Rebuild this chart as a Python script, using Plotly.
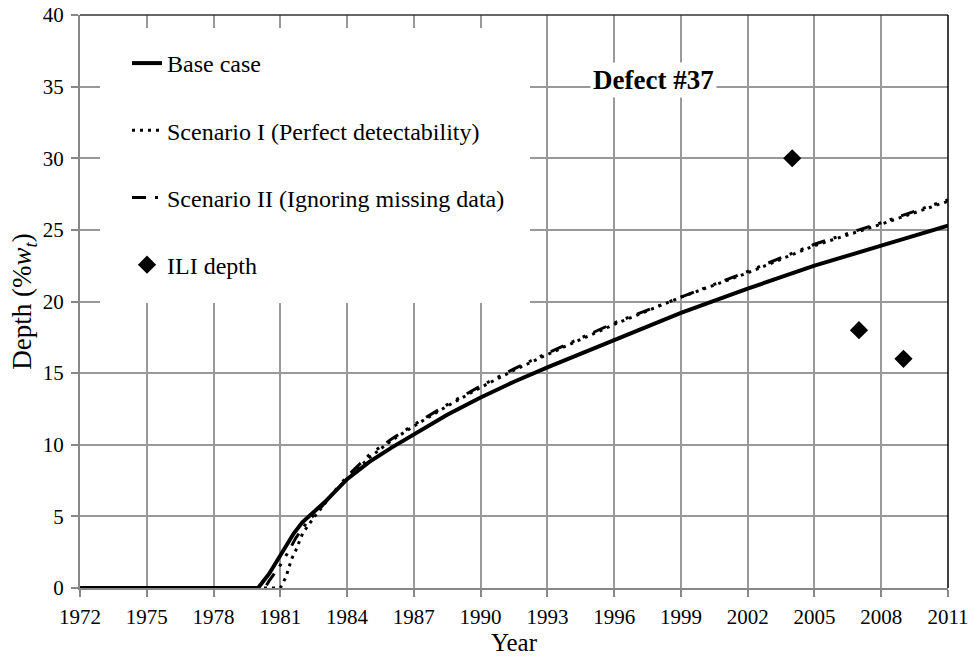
import plotly.graph_objects as go

# ---- data ----
years_base = [1972, 1980.0, 1980.5, 1981.0, 1981.3, 1981.6, 1982.0, 1982.5, 1983.0, 1984, 1985, 1986, 1987,
              1988.5, 1990, 1991.5, 1993, 1996, 1999, 2002, 2005, 2008, 2011]
depth_base = [0, 0, 1.0, 2.3, 3.1, 3.8, 4.6, 5.3, 6.0, 7.6, 8.8, 9.8, 10.7,
              12.1, 13.3, 14.4, 15.4, 17.3, 19.2, 20.9, 22.5, 23.9, 25.3]

years_s1 = [1972, 1981.0, 1981.25, 1981.5, 1981.7, 1982.0, 1982.5, 1982.8, 1983.3, 1984, 1985, 1986,
            1987, 1988.5, 1990, 1991.5, 1993, 1996, 1999, 2002, 2005, 2008, 2011]
depth_s1 = [0, 0, 0.75, 2.0, 2.65, 3.8, 4.9, 5.5, 6.5, 7.6, 9.1, 10.3,
            11.3, 12.7, 14.0, 15.2, 16.3, 18.4, 20.3, 22.0, 23.9, 25.4, 27.0]

years_s2 = [1972, 1980.3, 1980.5, 1981.0, 1981.35, 1981.7, 1982.2, 1982.7, 1983.3, 1984, 1985, 1986,
            1987, 1988.5, 1990, 1991.5, 1993, 1996, 1999, 2002, 2005, 2008, 2011]
depth_s2 = [0, 0, 0.5, 1.6, 2.5, 3.5, 4.6, 5.4, 6.5, 7.8, 9.3, 10.4,
            11.4, 12.8, 14.1, 15.3, 16.4, 18.5, 20.3, 22.1, 24.0, 25.5, 27.1]

ili_years = [2004, 2007, 2009]
ili_depth = [30, 18, 16]

x_ticks = list(range(1972, 2012, 3))
y_ticks = list(range(0, 41, 5))

FONT = "Liberation Serif"

fig = go.Figure()
fig.add_trace(go.Scatter(x=years_base, y=depth_base, mode="lines", name="Base case",
                         legendgroup="a", line=dict(color="black", width=4)))
fig.add_trace(go.Scatter(x=years_s1, y=depth_s1, mode="lines", name="Scenario I (Perfect detectability)",
                         legendgroup="b", line=dict(color="black", width=3, dash="3px,5px")))
fig.add_trace(go.Scatter(x=years_s2, y=depth_s2, mode="lines", name="Scenario II (Ignoring missing data)",
                         legendgroup="c", line=dict(color="black", width=3, dash="14px,9px,3px,9px,3px,9px")))
fig.add_trace(go.Scatter(x=ili_years, y=ili_depth, mode="markers", name="ILI depth",
                         legendgroup="d", marker=dict(symbol="diamond", size=14, color="black")))

W, H = 974, 660
ml, mr, mt, mb = 80, 26, 15, 72
pw = W - ml - mr
ph = H - mt - mb

def px_x(px):
    return (px - ml) / pw

def px_y(py):
    return (H - mb - py) / ph

fig.update_layout(
    width=W, height=H,
    margin=dict(l=ml, r=mr, t=mt, b=mb, autoexpand=False),
    paper_bgcolor="white", plot_bgcolor="white",
    font=dict(family=FONT, size=21, color="black"),
    showlegend=True,
    legend=dict(x=px_x(127), y=px_y(41), xanchor="left", yanchor="top",
                bgcolor="rgba(0,0,0,0)", font=dict(family=FONT, size=24, color="black"),
                tracegroupgap=33, traceorder="grouped"),
    xaxis=dict(range=[1972, 2011], tickvals=x_ticks, ticktext=[str(v) for v in x_ticks],
               showgrid=True, gridcolor="#999999", gridwidth=1.5,
               showline=True, linecolor="#888888", linewidth=2,
               ticks="outside", ticklen=7, tickcolor="#888888", tickwidth=1.5,
               zeroline=False, layer="below traces", automargin=False,
               ticklabelstandoff=2,
               tickfont=dict(family=FONT, size=21),
               title=dict(text="Year", font=dict(family=FONT, size=25), standoff=4)),
    yaxis=dict(range=[0, 40], tickvals=y_ticks, ticktext=[str(v) for v in y_ticks],
               showgrid=True, gridcolor="#999999", gridwidth=1.5,
               showline=True, linecolor="#888888", linewidth=2,
               ticks="outside", ticklen=7, tickcolor="#888888", tickwidth=1.5,
               zeroline=False, layer="below traces", automargin=False,
               ticklabelstandoff=3,
               tickfont=dict(family=FONT, size=21),
               title=dict(text="Depth (%<i>w</i><sub><i>t</i></sub>)", font=dict(family=FONT, size=27), standoff=3)),
    shapes=[
        dict(type="rect", xref="paper", yref="paper", x0=px_x(100), x1=px_x(530),
             y0=px_y(303), y1=px_y(28), fillcolor="white", line=dict(width=0), layer="above"),
        dict(type="line", xref="paper", yref="paper", x0=0, x1=1, y0=1, y1=1,
             line=dict(color="#333333", width=1.5)),
        dict(type="line", xref="paper", yref="paper", x0=1, x1=1, y0=0, y1=1,
             line=dict(color="black", width=1.5)),
    ],
    annotations=[
        dict(text="<b>Defect #37</b>", x=px_x(653), y=px_y(80), xref="paper", yref="paper",
             xanchor="center", yanchor="middle",
             showarrow=False, font=dict(family=FONT, size=27, color="black"),
             bgcolor="white", borderpad=2),
    ],
)

fig.write_html("out.html")
